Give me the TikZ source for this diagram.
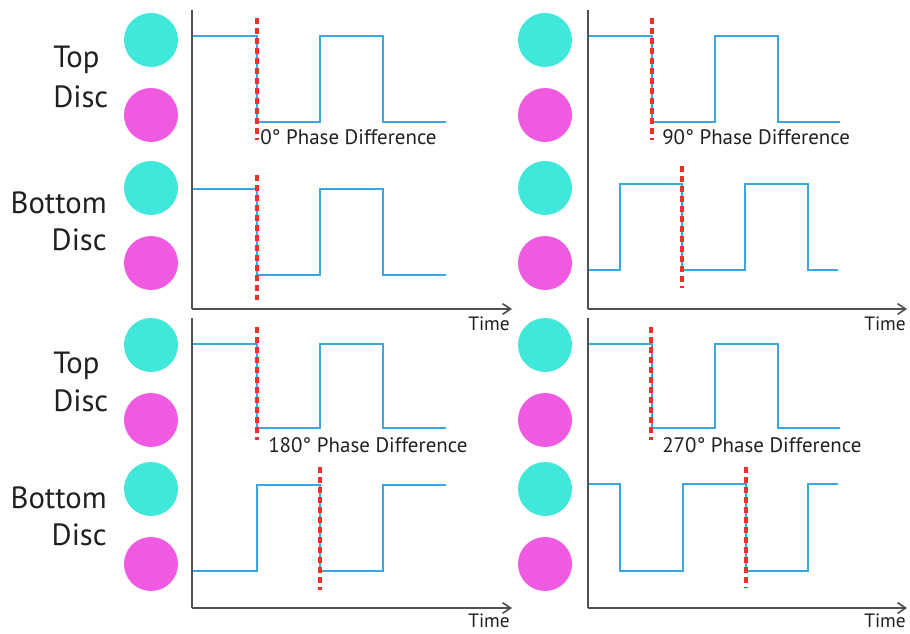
\documentclass[tikz,border=0pt]{standalone}
\usepackage{fontspec}
\setmainfont{PT Sans}
\usetikzlibrary{arrows.meta}
\definecolor{cyanc}{HTML}{40E8DC}
\definecolor{magc}{HTML}{F05AE0}
\definecolor{wave}{HTML}{3AA8E0}
\definecolor{redd}{HTML}{F0302A}
\definecolor{axisc}{HTML}{505050}
\definecolor{txt}{HTML}{231F20}
\tikzset{
  disc/.style={circle, minimum size=40.5pt, inner sep=0pt},
  cdisc/.style={disc, fill=cyanc},
  mdisc/.style={disc, fill=magc},
  sig/.style={draw=wave, line width=1.5pt, line join=miter},
  phase/.style={draw=redd, line width=2.6pt, dash pattern=on 4.5pt off 3pt},
  axisl/.style={draw=axisc, line width=1.4pt},
  axisa/.style={axisl, -{Straight Barb[length=6pt,width=8pt,line width=1.2pt]}},
  lab/.style={text=txt, font=\fontsize{23}{25}\selectfont, inner sep=0pt},
  plab/.style={text=txt, font=\fontsize{15.7}{18}\selectfont, inner sep=0pt},
  tlab/.style={text=txt, font=\fontsize{14.5}{16}\selectfont, inner sep=0pt}
}
\begin{document}
\begin{tikzpicture}[x=0.75pt,y=-0.75pt]
\path[use as bounding box] (0,0) rectangle (910,634);

% ---------- discs ----------
\foreach \cx/\s in {151/L,545/R}{
  \node[cdisc] (c1\s) at (\cx,40) {};
  \node[mdisc] (m1\s) at (\cx,115) {};
  \node[cdisc] (c2\s) at (\cx,188) {};
  \node[mdisc] (m2\s) at (\cx,263) {};
  \node[cdisc] (c3\s) at (\cx,345) {};
  \node[mdisc] (m3\s) at (\cx,420) {};
  \node[cdisc] (c4\s) at (\cx,489) {};
  \node[mdisc] (m4\s) at (\cx,564) {};
}

% ---------- side labels ----------
\node[lab, anchor=west] (t1) at (53,60) {Top};
\node[lab, anchor=west] (d1) at (53,97) {Disc};
\node[lab, anchor=east] (b1) at (107,203) {Bottom};
\node[lab, anchor=east] (d2) at (107,240) {Disc};
\node[lab, anchor=west] (t2) at (53,366) {Top};
\node[lab, anchor=west] (d3) at (53,401) {Disc};
\node[lab, anchor=east] (b2) at (107,498) {Bottom};
\node[lab, anchor=east] (d4) at (107,535) {Disc};

% ---------- axes ----------
\coordinate (o1) at (192,309); \coordinate (y1) at (192,10); \coordinate (x1) at (512,309);
\coordinate (o2) at (588,309); \coordinate (y2) at (588,10); \coordinate (x2) at (907,309);
\coordinate (o3) at (192,608); \coordinate (y3) at (192,318); \coordinate (x3) at (512,608);
\coordinate (o4) at (588,608); \coordinate (y4) at (588,318); \coordinate (x4) at (907,608);
\foreach \i in {1,2,3,4}{
  \draw[axisl] (y\i) -- (o\i);
  \draw[axisa] (o\i) -- (x\i);
}
\node[tlab, anchor=east] (time1) at (510,324) {Time};
\node[tlab, anchor=east] (time2) at (906,324) {Time};
\node[tlab, anchor=east] (time3) at (510,621) {Time};
\node[tlab, anchor=east] (time4) at (906,621) {Time};

% ---------- waves: top-left (0 deg) ----------
\draw[sig] (193,36) -- (257,36) -- (257,122) -- (320,122) -- (320,36) -- (383,36) -- (383,122) -- (446,122);
\draw[sig] (193,189) -- (257,189) -- (257,275) -- (320,275) -- (320,189) -- (383,189) -- (383,275) -- (446,275);
\draw[phase] (257,18) -- (257,140);
\draw[phase] (257,175) -- (257,300);
\node[plab, anchor=west] (p0) at (260,137) {0° Phase Difference};

% ---------- waves: top-right (90 deg) ----------
\draw[sig] (589,36) -- (652,36) -- (652,122) -- (715,122) -- (715,36) -- (778,36) -- (778,122) -- (840,122);
\draw[sig] (589,270) -- (620,270) -- (620,184) -- (682,184) -- (682,270) -- (745,270) -- (745,184) -- (808,184) -- (808,270) -- (838,270);
\draw[phase] (652,18) -- (652,140);
\draw[phase] (682,166) -- (682,288);
\node[plab, anchor=west] (p90) at (662,137) {90° Phase Difference};

% ---------- waves: bottom-left (180 deg) ----------
\draw[sig] (193,344) -- (257,344) -- (257,428) -- (320,428) -- (320,344) -- (383,344) -- (383,428) -- (446,428);
\draw[sig] (193,571) -- (257,571) -- (257,485) -- (320,485) -- (320,571) -- (383,571) -- (383,485) -- (446,485);
\draw[phase] (257,327) -- (257,440);
\draw[phase] (320,467) -- (320,590);
\node[plab, anchor=west] (p180) at (268,445) {180° Phase Difference};

% ---------- waves: bottom-right (270 deg) ----------
\draw[sig] (589,344) -- (652,344) -- (652,428) -- (715,428) -- (715,344) -- (778,344) -- (778,428) -- (840,428);
\draw[sig] (589,484) -- (620,484) -- (620,571) -- (683,571) -- (683,484) -- (746,484) -- (746,571) -- (808,571) -- (808,484) -- (838,484);
\draw[phase] (651,327) -- (651,440);
\draw[phase] (746,467) -- (746,588);
\node[plab, anchor=west] (p270) at (662,445) {270° Phase Difference};
\end{tikzpicture}
\end{document}
